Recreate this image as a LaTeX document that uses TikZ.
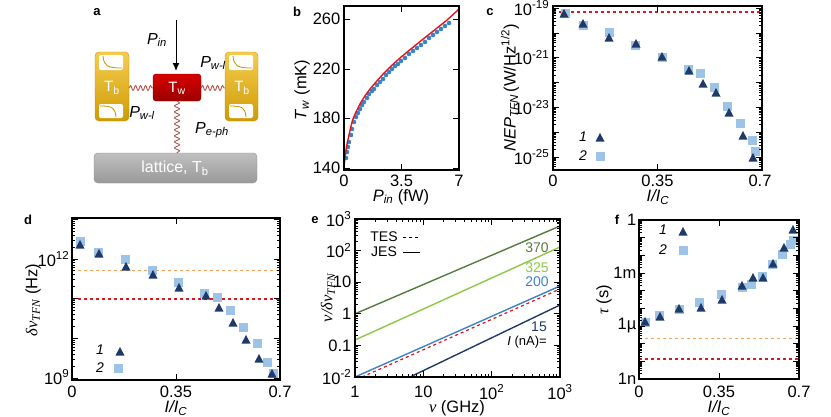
\documentclass[tikz,border=0pt]{standalone}
\usepackage{fontspec}
\setmainfont{Liberation Sans}
\newfontfamily\grk{Liberation Serif}
\usetikzlibrary{decorations.pathmorphing,arrows.meta}
\definecolor{tric}{HTML}{1F3A68}
\definecolor{sqc}{HTML}{9DC3E6}
\definecolor{redd}{HTML}{E0161C}
\definecolor{orng}{HTML}{F4A460}
\definecolor{gold}{HTML}{F2B705}
\definecolor{spr}{HTML}{B5524A}
\definecolor{dotc}{RGB}{60,130,200}
\definecolor{gA}{RGB}{84,124,60}
\definecolor{gB}{RGB}{140,200,70}
\newcommand\Tri[2]{\fill[tric] (#1,#2) ++(-4.5,3.5) -- ++(9,0) -- ++(-4.5,-8.5) -- cycle;}
\newcommand\Sq[2]{\fill[sqc] (#1,#2) ++(-4.5,-4.5) rectangle ++(9,9);}
\newcommand\LogY[8]{\begin{scope}\clip (#1,#3) rectangle (#2,#4);
 \foreach \d in {#7,...,#8}{\foreach \m in {1,...,9}{
  \pgfmathsetmacro\yy{#5-(\d+ln(\m)/ln(10))*#6}
  \pgfmathsetmacro\ll{\m==1 ? 6 : 3}
  \draw[tk] (#1,\yy) -- ++(\ll,0); \draw[tk] (#2,\yy) -- ++(-\ll,0);}}
 \end{scope}}
\newcommand\LogX[8]{\begin{scope}\clip (#1,#3) rectangle (#2,#4);
 \foreach \d in {#7,...,#8}{\foreach \m in {1,...,9}{
  \pgfmathsetmacro\xx{#5+(\d+ln(\m)/ln(10))*#6}
  \pgfmathsetmacro\ll{\m==1 ? 6 : 3}
  \draw[tk] (\xx,#4) -- ++(0,-\ll); \draw[tk] (\xx,#3) -- ++(0,\ll);}}
 \end{scope}}
\newcommand\LinX[5]{\foreach \xx in {#1,#2,#3}{\draw[tk] (\xx,#5) -- ++(0,-6); \draw[tk] (\xx,#4) -- ++(0,6);}}
\tikzset{tk/.style={line width=0.9pt},
 frame/.style={line width=1.4pt},
 tl/.style={font=\fontsize{16.5}{16.5}\selectfont, inner sep=0.5pt},
 lab/.style={font=\fontsize{16.5}{16.5}\selectfont, inner sep=0.5pt},
 pl/.style={font=\bfseries\fontsize{13}{13}\selectfont},
 leg/.style={font=\itshape\fontsize{14}{14}\selectfont},
 rdash/.style={redd,dashed,line width=1.2pt}}
\begin{document}
\begin{tikzpicture}[x=1pt,y=-1pt]
\useasboundingbox (0,0) rectangle (831,416);
% ================= panel a
\node[pl] (la) at (97,12) {a};
\shade[top color=gold!70!white,bottom color=gold!85!black,rounded corners=4pt,draw=gold!80!black] (95,52) rectangle (129,121);
\shade[top color=gold!70!white,bottom color=gold!85!black,rounded corners=4pt,draw=gold!80!black] (225,52) rectangle (258,121);
\foreach \xo in {95,225}{
 \fill[white,rounded corners=2pt] (\xo+4,55) rectangle (\xo+28,70);
 \draw[gold!80!black,line width=0.8pt] (\xo+8,56) .. controls (\xo+9,66) and (\xo+12,68) .. (\xo+27,68);
 \fill[white,rounded corners=2pt] (\xo+4,104) rectangle (\xo+28,118);
 \draw[gold!80!black,line width=0.8pt] (\xo+5,106) .. controls (\xo+18,106) and (\xo+20,108) .. (\xo+21,117);}
\node[text=white,font=\fontsize{15}{15}\selectfont] (tb1) at (112,88) {T\textsubscript{b}};
\node[text=white,font=\fontsize{15}{15}\selectfont] (tb2) at (242,88) {T\textsubscript{b}};
\shade[top color=red!85!black,bottom color=red!60!black,rounded corners=3pt,draw=red!50!black] (153,74) rectangle (201,101);
\node[text=white,font=\fontsize{15}{15}\selectfont] (tw) at (177,88) {T\textsubscript{w}};
\shade[top color=gray!50,bottom color=gray!80,rounded corners=4pt,draw=gray!90] (94,153) rectangle (257,183);
\node[text=white,font=\fontsize{16}{16}\selectfont] (lat) at (175,168) {lattice, T\textsubscript{b}};
\coordinate (s1a) at (129,88); \coordinate (s1b) at (153,88);
\coordinate (s2a) at (201,88); \coordinate (s2b) at (225,88);
\coordinate (s3a) at (177,101); \coordinate (s3b) at (177,153);
\draw[spr,line width=0.9pt,decorate,decoration={snake,segment length=5pt,amplitude=2.5pt}] (s1a) -- (s1b);
\draw[spr,line width=0.9pt,decorate,decoration={snake,segment length=5pt,amplitude=2.5pt}] (s2a) -- (s2b);
\draw[spr!70!gray,line width=0.9pt,decorate,decoration={snake,segment length=6pt,amplitude=2.5pt}] (s3a) -- (s3b);
\coordinate (ar) at (176,20);
\draw[-{Latex[length=8pt,width=7pt]},line width=1pt] (ar) -- (176,71);
\node[lab,font=\itshape\fontsize{16}{16}\selectfont] (pin) at (157,40) {P\textsubscript{in}};
\node[lab,font=\itshape\fontsize{16}{16}\selectfont] (pw1) at (213,63) {P\textsubscript{w-l}};
\node[lab,font=\itshape\fontsize{16}{16}\selectfont] (pw2) at (142,113) {P\textsubscript{w-l}};
\node[lab,font=\itshape\fontsize{16}{16}\selectfont] (pe) at (212,130) {P\textsubscript{e-ph}};
% ================= panel b
\node[pl] (lb) at (297,12) {b};
\foreach \x/\y in {345/157,346/151,347/146,348/141,350/134,351/128,353/121,355/116,357/112,359/108,361/104,363/101,366/97,368/93,371/90,373/88,376/84,379/81,382/78,385/74,388/71,391/68,394/65,397/63,400/60,404/57,408/53,412/50,416/47,420/44,424/41,428/37,432/34,436/31,440/28,444/25,448/22}{
 \fill[dotc] (\x+1,\y+1) circle (2.3);}
\draw[redd,line width=1.4pt] plot[smooth] coordinates {(344,167) (346,150) (349,135) (353,119) (360,104) (367,93) (376,82) (387,70) (400,58) (417,44) (432,32) (447,20) (459,9)};
\draw[frame] (344,6) rectangle (459,170);
\LinX{344}{401.5}{459}{6}{170}
\foreach \v/\yy in {140/168,180/118,220/69,260/19}{
 \draw[tk] (344,\yy) -- ++(6,0); \draw[tk] (459,\yy) -- ++(-6,0);
 \node[tl,anchor=east] at (341,\yy) {\v};}
\foreach \v/\xx in {0/344,3.5/401.5,7/459}{\node[tl] at (\xx,181) {\v};}
\node[lab] at (401,197) {\textit{P}\textsubscript{\textit{in}} (fW)};
\node[lab,rotate=90] at (302,90) {\textit{T}\textsubscript{\textit{w}} (mK)};
% ================= panel c
\node[pl] (lc) at (490,12) {c};
\draw[rdash] (553,12) -- (762,12);
\foreach \x/\y in {565/13,583/25,609/32,635/45,662/57,688/69,700/73,714/87,727/106,740/123,752/140,755/151}{\Sq{\x}{\y}}
\foreach \x/\y in {564/14,583/24,609/38,636/44,662/57,689/71,703/84,716/93,729/113,743/136,753/158}{\Tri{\x}{\y}}
\draw[frame] (553,6) rectangle (762,170);
\LogY{553}{762}{6}{170}{157}{24.8}{-1}{6}
\LinX{553}{657.5}{762}{6}{170}
\foreach \e/\yy in {-19/8,-21/57.6,-23/107.2,-25/157}{\node[tl,anchor=east] at (550,\yy) {10\textsuperscript{\e}};}
\foreach \v/\xx in {0/553,0.35/657.5,0.7/760}{\node[tl] at (\xx,181) {\v};}
\node[lab] at (658,197) {\textit{I/I}\textsubscript{\textit{C}}};
\node[lab,rotate=90] at (510,88) {\textit{NEP}\textsubscript{\textit{TFN}}\,(W/Hz\textsuperscript{1/2})};
\node[leg] at (583,137) {1}; \Tri{600}{138}
\node[leg] at (583,156) {2}; \Sq{600}{156}
% ================= panel d
\node[pl] (ld) at (28,220) {d};
\draw[orng,dashed,line width=1pt] (72,270) -- (280,270);
\draw[rdash] (72,299) -- (280,299);
\foreach \x/\y in {80/241,98/252,125/259,152/270,178/282,204/293,217/297,230/310,243/327,257/343,267/362,273/373}{\Sq{\x}{\y}}
\foreach \x/\y in {80/245,99/254,126/267,153/275,179/288,206/296,219/308,233/323,246/340,259/359,272/374}{\Tri{\x}{\y}}
\draw[frame] (72,218) rectangle (280,380);
\LogY{72}{280}{218}{380}{378}{39.67}{-1}{4}
\LinX{72}{176}{280}{218}{380}
\node[tl,anchor=east] at (70,259) {10\textsuperscript{12}};
\node[tl,anchor=east] at (70,377) {10\textsuperscript{9}};
\foreach \v/\xx in {0/72,0.35/176,0.7/280}{\node[tl] at (\xx,392) {\v};}
\node[lab] at (176,408) {\textit{I/I}\textsubscript{\textit{C}}};
\node[lab,rotate=90] at (33,300) {{\grk\itshape δν}\textsubscript{\grk\itshape TFN} (Hz)};
\node[leg] at (100,350) {1}; \Tri{120}{352}
\node[leg] at (100,368) {2}; \Sq{118}{368}
% ================= panel e
\node[pl] (le) at (315,220) {e};
\begin{scope}
\clip (355,219) rectangle (560,377);
\draw[line width=1.4pt,gA] (355,313.8) -- (560,226);
\draw[line width=1.4pt,gB] (355,340) -- (560,247);
\draw[line width=1.4pt,dotc] (355,377) -- (560,286);
\draw[rdash] (362,377) -- (560,289);
\draw[line width=1.4pt,tric] (410,377) -- (560,305);
\end{scope}
\draw[frame] (355,219) rectangle (560,377);
\LogY{355}{560}{219}{377}{377}{31.6}{0}{5}
\LogX{355}{560}{219}{377}{355}{68.33}{0}{3}
\foreach \t/\yy in {10\textsuperscript{3}/219,10\textsuperscript{2}/250.6,10/282.2,1/313.8,0.1/345.4,10\textsuperscript{-2}/377}{\node[tl,anchor=east] at (352,\yy) {\t};}
\foreach \t/\xx in {1/355,10/423.3,10\textsuperscript{2}/491.7,10\textsuperscript{3}/560}{\node[tl] at (\xx,392) {\t};}
\node[lab] at (457,408) {{\grk\itshape ν} (GHz)};
\node[lab,rotate=90] at (328,298) {{\grk\itshape ν/δν}\textsubscript{\grk\itshape TFN}};
\node[font=\fontsize{14}{14}\selectfont] at (384,237) {TES};
\draw[line width=1pt,dashed] (403,237) -- (420,237);
\node[font=\fontsize{14}{14}\selectfont] at (384,252) {JES};
\draw[line width=1pt] (403,252) -- (420,252);
\node[font=\fontsize{14}{14}\selectfont,gA] at (537,248) {370};
\node[font=\fontsize{14}{14}\selectfont,gB] at (537,268) {325};
\node[font=\fontsize{14}{14}\selectfont,dotc] at (537,282) {200};
\node[font=\fontsize{14}{14}\selectfont,tric] at (539,327) {15};
\node[font=\fontsize{13}{13}\selectfont] at (527,342) {\textit{I} (nA)=};
% ================= panel f
\node[pl] (lf) at (617,220) {f};
\draw[orng,dashed,line width=1pt] (639,338) -- (799,338);
\draw[rdash] (639,359) -- (799,359);
\foreach \x/\y in {645/322,659/315,679/309,699/302,721/294,742/287,751/284,762/276,772/264,782/254,790/244,793/240}{\Sq{\x}{\y}}
\foreach \x/\y in {645/322,660/317,679/309,701/308,722/300,742/286,753/278,763/278,773/264,784/248,793/230}{\Tri{\x}{\y}}
\draw[frame] (639,220) rectangle (799,379);
\LogY{639}{799}{220}{379}{379}{17.67}{0}{9}
\LinX{639}{719}{799}{220}{379}
\foreach \t/\yy in {1/220,1m/273,1µ/326,1n/379}{\node[tl,anchor=east] at (637,\yy) {\t};}
\foreach \v/\xx in {0/639,0.35/719,0.7/799}{\node[tl] at (\xx,392) {\v};}
\node[lab] at (719,408) {\textit{I/I}\textsubscript{\textit{C}}};
\node[lab,rotate=90] at (604,300) {{\grk\itshape τ} (s)};
\node[leg] at (663,230) {1}; \Tri{683}{232}
\node[leg] at (663,250) {2}; \Sq{683}{250}
\end{tikzpicture}
\end{document}
